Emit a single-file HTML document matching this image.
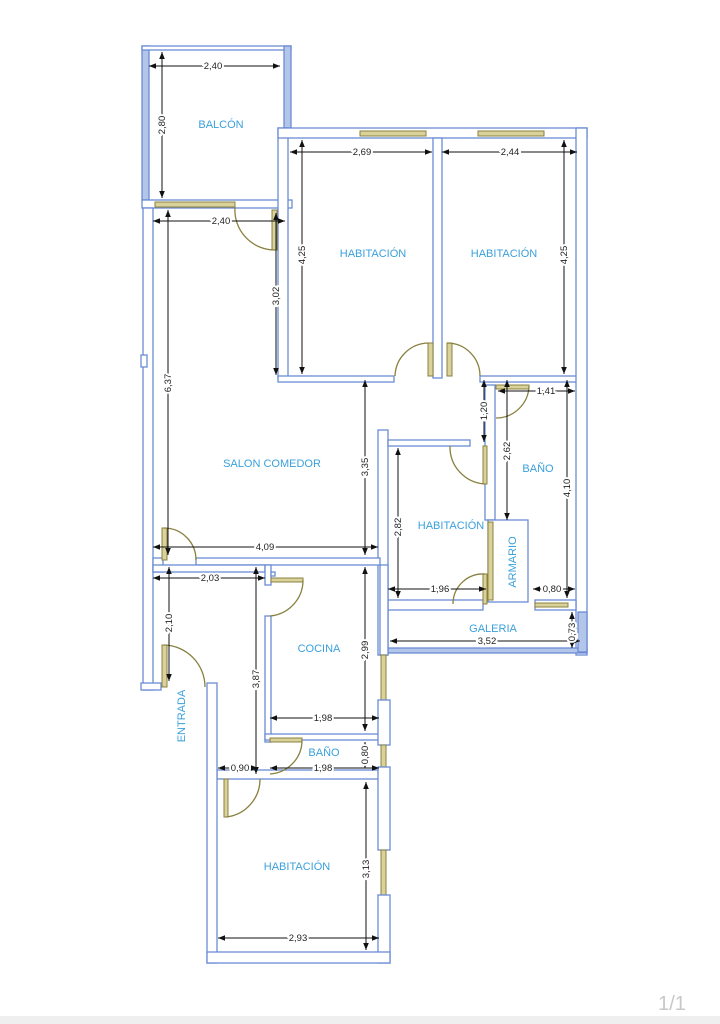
<!DOCTYPE html>
<html><head><meta charset="utf-8"><style>
html,body{margin:0;padding:0;background:#fff;}
svg{display:block;}
.w{fill:#fff;stroke:#6a8bd4;stroke-width:1.3;}
.wf{fill:#b3c6ea;stroke:#6a8bd4;stroke-width:1.3;}
.win{fill:#d9d29a;stroke:#8a8040;stroke-width:1;}
.door{fill:none;stroke:#8a8040;stroke-width:1.3;}
.leaf{fill:#d9d29a;stroke:#8a8040;stroke-width:1;}
.d{stroke:#111;stroke-width:1;fill:none;}
.t{font-family:"Liberation Sans",sans-serif;font-size:9.5px;fill:#222;paint-order:stroke;stroke:#fff;stroke-width:4px;}
.r{font-family:"Liberation Sans",sans-serif;font-size:11px;fill:#3aa0dc;}
</style></head><body>
<svg width="720" height="1024" viewBox="0 0 720 1024" xmlns="http://www.w3.org/2000/svg">
<defs>
<marker id="a" viewBox="0 0 10 10" refX="10" refY="5" markerWidth="7" markerHeight="7" orient="auto-start-reverse"><path d="M0,1 L10,5 L0,9 z" fill="#111"/></marker>
</defs>

<rect class="wf" x="142" y="46" width="7" height="154"/>
<rect class="w" x="142" y="46" width="149" height="4"/>
<rect class="wf" x="284" y="46" width="7" height="82"/>
<rect class="w" x="142" y="200" width="150" height="8"/>
<rect class="win" x="155" y="202" width="80" height="5"/>
<rect class="w" x="143" y="208" width="10" height="482"/>
<rect class="w" x="141" y="355" width="6" height="12"/>
<rect class="w" x="278" y="128" width="10" height="250"/>
<rect class="w" x="278" y="128" width="309" height="10"/>
<rect class="win" x="360" y="131" width="66" height="5"/>
<rect class="win" x="478" y="131" width="66" height="5"/>
<rect class="w" x="433" y="138" width="9" height="240"/>
<rect class="w" x="278" y="376" width="116" height="6"/>
<rect class="w" x="480" y="376" width="98" height="6"/>
<rect class="w" x="576" y="128" width="11" height="527"/>
<rect class="w" x="378" y="430" width="10" height="225"/>
<rect class="w" x="388" y="440" width="82" height="6"/>
<rect class="w" x="485" y="385" width="10" height="135"/>
<rect class="w" x="488" y="520" width="40" height="82"/>
<rect class="w" x="388" y="600" width="95" height="10"/>
<rect class="w" x="535" y="600" width="41" height="10"/>
<rect class="leaf" x="488" y="522" width="5" height="78"/>
<rect class="leaf" x="535" y="603" width="33" height="4"/>
<rect class="wf" x="388" y="648" width="199" height="5"/>
<rect class="wf" x="578" y="612" width="9" height="40"/>
<rect class="w" x="196" y="558" width="184" height="7"/>
<rect class="w" x="153" y="558" width="10" height="14"/>
<rect class="w" x="153" y="565" width="112" height="7"/>
<rect class="w" x="265" y="565" width="6" height="20"/>
<rect class="w" x="265" y="616" width="6" height="126"/>
<rect class="w" x="271" y="572" width="4" height="4"/>
<rect class="w" x="265" y="734" width="115" height="6"/>
<rect class="w" x="217" y="770" width="163" height="9"/>
<rect class="w" x="380" y="565" width="8" height="90"/>
<rect class="win" x="381" y="655" width="5" height="45"/>
<rect class="w" x="378" y="700" width="12" height="45"/>
<rect class="win" x="381" y="745" width="5" height="22"/>
<rect class="w" x="378" y="767" width="12" height="83"/>
<rect class="win" x="381" y="850" width="5" height="45"/>
<rect class="w" x="378" y="895" width="12" height="68"/>
<rect class="w" x="207" y="683" width="10" height="280"/>
<rect class="w" x="207" y="952" width="183" height="11"/>
<rect class="w" x="141" y="683" width="20" height="7"/>

<rect class="leaf" x="272" y="210" width="5" height="40"/>
<path class="door" d="M235,207 A40,40 0 0 0 275,250"/>
<rect class="leaf" x="428" y="343" width="5" height="33"/>
<path class="door" d="M395,376 A34,34 0 0 1 429,343"/>
<rect class="leaf" x="447" y="343" width="5" height="33"/>
<path class="door" d="M480,376 A33,33 0 0 0 447,343"/>
<rect class="leaf" x="496" y="385" width="33" height="4"/>
<path class="door" d="M529,386 A33,33 0 0 1 496,418"/>
<rect class="leaf" x="483" y="446" width="4" height="38"/>
<path class="door" d="M450,446 A37,37 0 0 0 485,484"/>
<rect class="leaf" x="483" y="574" width="4" height="30"/>
<path class="door" d="M453,604 A30,30 0 0 1 485,574"/>
<rect class="leaf" x="162" y="528" width="5" height="32"/>
<path class="door" d="M164,528 A32,32 0 0 1 196,560"/>
<rect class="leaf" x="271" y="578" width="32" height="4"/>
<path class="door" d="M303,580 A36,36 0 0 1 270,616"/>
<rect class="leaf" x="162" y="645" width="5" height="42"/>
<path class="door" d="M164,645 A42,42 0 0 1 205,687"/>
<rect class="leaf" x="270" y="738" width="32" height="4"/>
<path class="door" d="M302,740 A34,34 0 0 1 270,774"/>
<rect class="leaf" x="224" y="779" width="4" height="38"/>
<path class="door" d="M226,817 A38,38 0 0 0 260,779"/>

<g class="d">
<line x1="149" y1="66" x2="280" y2="66" marker-start="url(#a)" marker-end="url(#a)"/>
<line x1="162" y1="52" x2="162" y2="198" marker-start="url(#a)" marker-end="url(#a)"/>
<line x1="153" y1="221" x2="285" y2="221" marker-start="url(#a)" marker-end="url(#a)"/>
<line x1="168" y1="210" x2="168" y2="555" marker-start="url(#a)" marker-end="url(#a)"/>
<line x1="276" y1="213" x2="276" y2="375" marker-start="url(#a)" marker-end="url(#a)"/>
<line x1="290" y1="152" x2="432" y2="152" marker-start="url(#a)" marker-end="url(#a)"/>
<line x1="302" y1="140" x2="302" y2="374" marker-start="url(#a)" marker-end="url(#a)"/>
<line x1="442" y1="152" x2="577" y2="152" marker-start="url(#a)" marker-end="url(#a)"/>
<line x1="564" y1="140" x2="564" y2="374" marker-start="url(#a)" marker-end="url(#a)"/>
<line x1="365" y1="380" x2="365" y2="555" marker-start="url(#a)" marker-end="url(#a)"/>
<line x1="153" y1="547" x2="378" y2="547" marker-start="url(#a)" marker-end="url(#a)"/>
<line x1="484" y1="380" x2="484" y2="442" marker-start="url(#a)" marker-end="url(#a)"/>
<line x1="498" y1="391" x2="575" y2="391" marker-start="url(#a)" marker-end="url(#a)"/>
<line x1="507" y1="380" x2="507" y2="520" marker-start="url(#a)" marker-end="url(#a)"/>
<line x1="567" y1="380" x2="567" y2="598" marker-start="url(#a)" marker-end="url(#a)"/>
<line x1="398" y1="448" x2="398" y2="598" marker-start="url(#a)" marker-end="url(#a)"/>
<line x1="388" y1="589" x2="486" y2="589" marker-start="url(#a)" marker-end="url(#a)"/>
<line x1="533" y1="589" x2="575" y2="589" marker-start="url(#a)" marker-end="url(#a)"/>
<line x1="572" y1="612" x2="572" y2="648" marker-start="url(#a)" marker-end="url(#a)"/>
<line x1="390" y1="641" x2="580" y2="641" marker-start="url(#a)" marker-end="url(#a)"/>
<line x1="153" y1="578" x2="265" y2="578" marker-start="url(#a)" marker-end="url(#a)"/>
<line x1="169" y1="567" x2="169" y2="681" marker-start="url(#a)" marker-end="url(#a)"/>
<line x1="256" y1="567" x2="256" y2="774" marker-start="url(#a)" marker-end="url(#a)"/>
<line x1="365" y1="567" x2="365" y2="731" marker-start="url(#a)" marker-end="url(#a)"/>
<line x1="270" y1="718" x2="379" y2="718" marker-start="url(#a)" marker-end="url(#a)"/>
<line x1="365" y1="742" x2="365" y2="768" marker-start="url(#a)" marker-end="url(#a)"/>
<line x1="218" y1="768" x2="258" y2="768" marker-start="url(#a)" marker-end="url(#a)"/>
<line x1="270" y1="768" x2="379" y2="768" marker-start="url(#a)" marker-end="url(#a)"/>
<line x1="366" y1="782" x2="366" y2="950" marker-start="url(#a)" marker-end="url(#a)"/>
<line x1="218" y1="938" x2="379" y2="938" marker-start="url(#a)" marker-end="url(#a)"/>
</g>
<g class="t" text-anchor="middle">
<text x="213" y="69">2,40</text>
<text x="221" y="224">2,40</text>
<text x="362" y="155">2,69</text>
<text x="510" y="155">2,44</text>
<text x="265" y="550">4,09</text>
<text x="546" y="394">1,41</text>
<text x="440" y="592">1,96</text>
<text x="552" y="592">0,80</text>
<text x="487" y="644">3,52</text>
<text x="210" y="581">2,03</text>
<text x="323" y="721">1,98</text>
<text x="240" y="771">0,90</text>
<text x="323" y="771">1,98</text>
<text x="298" y="941">2,93</text>
<text transform="translate(165,125) rotate(-90)">2,80</text>
<text transform="translate(171,383) rotate(-90)">6,37</text>
<text transform="translate(279,296) rotate(-90)">3,02</text>
<text transform="translate(305,255) rotate(-90)">4,25</text>
<text transform="translate(567,255) rotate(-90)">4,25</text>
<text transform="translate(368,467) rotate(-90)">3,35</text>
<text transform="translate(487,411) rotate(-90)">1,20</text>
<text transform="translate(510,451) rotate(-90)">2,62</text>
<text transform="translate(570,488) rotate(-90)">4,10</text>
<text transform="translate(401,527) rotate(-90)">2,82</text>
<text transform="translate(575,632) rotate(-90)">0,73</text>
<text transform="translate(172,623) rotate(-90)">2,10</text>
<text transform="translate(259,679) rotate(-90)">3,87</text>
<text transform="translate(368,650) rotate(-90)">2,99</text>
<text transform="translate(368,755) rotate(-90)">0,80</text>
<text transform="translate(369,869) rotate(-90)">3,13</text>
</g>
<g class="r" text-anchor="middle">
<text x="221" y="128">BALCÓN</text>
<text x="373" y="257">HABITACIÓN</text>
<text x="504" y="257">HABITACIÓN</text>
<text x="272" y="467">SALON COMEDOR</text>
<text x="538" y="472">BAÑO</text>
<text x="451" y="529">HABITACIÓN</text>
<text x="493" y="632">GALERIA</text>
<text x="319" y="652">COCINA</text>
<text x="324" y="756">BAÑO</text>
<text x="297" y="870">HABITACIÓN</text>
<text transform="translate(185,716) rotate(-90)">ENTRADA</text>
<text transform="translate(516,562) rotate(-90)">ARMARIO</text>
</g>
<text x="672" y="1010" text-anchor="middle" font-family="Liberation Sans, sans-serif" font-size="20" fill="#c8c8c8">1/1</text>
<rect x="0" y="1016" width="720" height="8" fill="#efefef"/>
</svg>
</body></html>
